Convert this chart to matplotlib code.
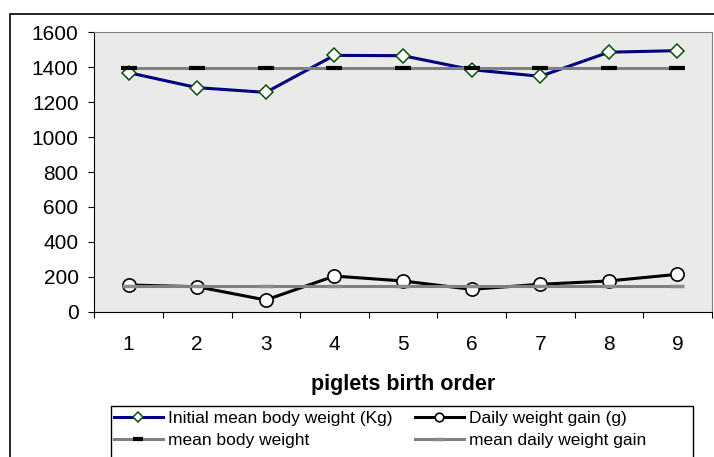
import numpy as np
import matplotlib.pyplot as plt
from matplotlib.patches import Rectangle

plt.rcParams['font.family'] = ['Liberation Sans', 'DejaVu Sans']

# donnees
birth_order = [1, 2, 3, 4, 5, 6, 7, 8, 9]
initial_weight = [1369, 1283, 1256, 1468, 1466, 1386, 1348, 1486, 1495]
daily_gain = [153, 143, 67, 204, 176, 128, 157, 176, 214]
mean_weight = [1395] * 9
mean_gain = [150] * 9

W, H = 714, 457
fig = plt.figure(figsize=(W / 100, H / 100), dpi=100)

# cadre exterieur du graphique (coupe a droite et en bas)
fig.patches.append(Rectangle((10 / W, -0.5), 2.0, 1.5 - 14 / H, transform=fig.transFigure,
                             fill=False, edgecolor='black', linewidth=1.2, zorder=0))

ax = fig.add_axes([94.3 / W, 1 - 311.7 / H, (711.7 - 94.3) / W, (311.7 - 32.3) / H])
ax.set_facecolor('#eaeae8')

ax.plot(birth_order, initial_weight, color='#000080', lw=2.2, marker='D', ms=7.6,
        mfc='white', mec='#0b4d0b', mew=1.1, label='Initial mean body weight (Kg)', zorder=3)
ax.plot(birth_order, daily_gain, color='black', lw=2.2, marker='o', ms=9.5,
        mfc='white', mec='black', mew=1.2, label='Daily weight gain (g)', zorder=3)
ax.plot(birth_order, mean_weight, color='#808080', lw=2.2, marker='_', ms=12,
        mec='black', mew=3, label='mean body weight', zorder=4)
ax.plot(birth_order, mean_gain, color='#808080', lw=2.2, marker='_', ms=10,
        mec='#8c8c8c', mew=2.5, label='mean daily weight gain', zorder=4)

ax.set_xlim(0.5, 9.5)
ax.set_ylim(0, 1600)
ax.set_yticks(range(0, 1601, 200))
ax.set_xticks(birth_order)
ax.set_xticks(np.arange(0.5, 9.6, 1), minor=True)
ax.tick_params(axis='y', direction='out', length=4.3, width=0.8, pad=7, labelsize=15)
ax.tick_params(axis='x', which='major', length=0, pad=17, labelsize=15)
ax.tick_params(axis='x', which='minor', direction='out', length=4.3, width=0.8)

for s in ['top', 'right']:
    ax.spines[s].set_color('#808080')
for s in ['left', 'bottom']:
    ax.spines[s].set_color('black')

ax.set_xlabel('piglets birth order', fontsize=15.5, fontweight='bold')
ax.xaxis.set_label_coords(0.5, -0.222)

h, l = ax.get_legend_handles_labels()
order = [0, 2, 1, 3]
fig.legend([h[i] for i in order], [l[i] for i in order], loc='upper left',
           bbox_to_anchor=(114 / W, 1 - 411 / H), ncol=2, frameon=False,
           fontsize=12.5, borderpad=0, borderaxespad=0, handlelength=2.8,
           handletextpad=0.3, columnspacing=1.3, labelspacing=0.4,
           markerscale=0.65, numpoints=1)
fig.patches.append(Rectangle((110.7 / W, -0.2), (693 - 110.7) / W, 0.2 + 1 - 406 / H,
                             transform=fig.transFigure, fill=False, edgecolor='black',
                             linewidth=1.0))

fig.savefig('out.png', dpi=100)
